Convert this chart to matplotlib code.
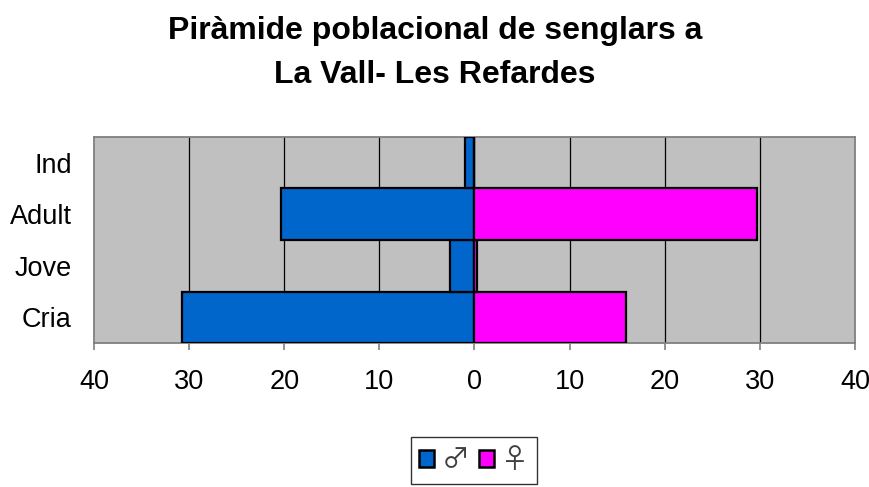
import matplotlib
matplotlib.use("Agg")
import matplotlib.pyplot as plt
from matplotlib.patches import Patch
import numpy as np

categories = ["Cria", "Jove", "Adult", "Ind"]
male = [30.7, 2.6, 20.3, 1.0]
female = [15.9, 0.3, 29.7, 0.0]
xtick_values = [-40, -30, -20, -10, 0, 10, 20, 30, 40]
xtick_labels = ["40", "30", "20", "10", "0", "10", "20", "30", "40"]
title = "Piràmide poblacional de senglars a\nLa Vall- Les Refardes"

plt.rcParams['font.family'] = ['Liberation Sans', 'DejaVu Sans']

fig = plt.figure(figsize=(8.7, 4.87), dpi=100)
ax = fig.add_axes([94/870, 1-343/487, (855-94)/870, (343-137)/487])
ax.set_facecolor("#C0C0C0")

y = np.arange(len(categories))
ax.barh(y, -np.array(male), height=1.0, color="#0066CC", edgecolor="black", linewidth=1.6, zorder=3)
ax.barh(y, np.array(female), height=1.0, color="#FF00FF", edgecolor="black", linewidth=1.6, zorder=3)

ax.set_xlim(-40, 40)
ax.set_ylim(-0.5, len(categories) - 0.5)
ax.set_xticks(xtick_values)
ax.set_xticklabels(xtick_labels, fontsize=19.5)
ax.set_yticks(y)
ax.set_yticklabels(categories, fontsize=19.5)
ax.tick_params(axis='y', length=0, pad=16)
ax.tick_params(axis='x', length=5, width=1.2, color="#808080", direction='out', pad=14)
for v in xtick_values[1:-1]:
    ax.axvline(v, color="black", linewidth=0.9, zorder=1)
for s in ["top", "left", "right", "bottom"]:
    ax.spines[s].set_color("#808080")
    ax.spines[s].set_linewidth(1.3)

fig.text(0.50, 1-53/487, title, ha="center", va="center", fontsize=23,
         fontweight="bold", linespacing=1.6)

handles = [Patch(facecolor="#0066CC", edgecolor="black", linewidth=1.8),
           Patch(facecolor="#FF00FF", edgecolor="black", linewidth=1.8)]
leg = fig.legend(handles, ["♂", "♀"], ncol=2, loc="upper center",
                 bbox_to_anchor=(474/870, 1-437/487), frameon=True, fancybox=False,
                 prop={'family': ['Noto Sans CJK JP', 'DejaVu Sans'], 'size': 20},
                 handlelength=0.55, handleheight=0.55, handletextpad=0.25,
                 columnspacing=0.35, borderpad=0.3, borderaxespad=0)
leg.get_frame().set_edgecolor("black")
leg.get_frame().set_linewidth(1.0)
for t in leg.get_texts():
    t.set_color("#404040")

fig.savefig("out.png", dpi=100)
